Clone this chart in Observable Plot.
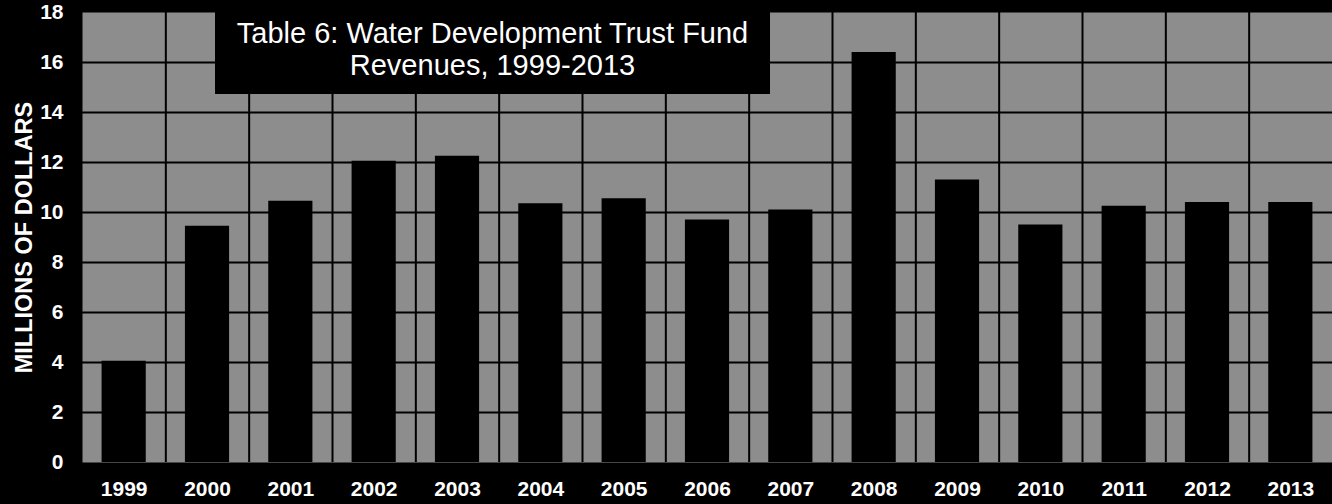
<!DOCTYPE html>
<html><head><meta charset="utf-8">
<script src="https://cdn.jsdelivr.net/npm/d3@7"></script>
<script src="https://cdn.jsdelivr.net/npm/@observablehq/plot@0.6"></script>
<style>
html,body{margin:0;padding:0;background:#000;}
#wrap{position:relative;width:1332px;height:504px;overflow:hidden;background:#000;}
#title{position:absolute;left:215px;top:0;width:555px;height:94px;background:#000;color:#fff;font-family:"Liberation Sans",Arial,sans-serif;font-size:29px;line-height:32px;text-align:center;padding-top:17px;box-sizing:border-box;}
</style></head><body>
<div id="wrap"></div>
<script>
const years = [1999,2000,2001,2002,2003,2004,2005,2006,2007,2008,2009,2010,2011,2012,2013];
const revenues = [4.05,9.45,10.45,12.05,12.25,10.35,10.55,9.7,10.1,16.4,11.3,9.5,10.25,10.4,10.4];
const yTicks = [0,2,4,6,8,10,12,14,16,18];
const yLabel = "MILLIONS OF DOLLARS";
const titleLines = ["Table 6: Water Development Trust Fund","Revenues, 1999-2013"];

const data = years.map((year,i)=>({year, value: revenues[i]}));
const boundaries = years.slice(0,-1).map(y=>y+0.5);
const inner = yTicks.filter(t=>t>yTicks[0] && t<yTicks[yTicks.length-1]);

const chart = Plot.plot({
  width:1332, height:504, marginLeft:82, marginRight:0, marginTop:12, marginBottom:42,
  style:{background:"#000", color:"#fff", fontFamily:"'Liberation Sans', Arial, sans-serif"},
  x:{domain:[1998.5,2013.5], axis:null},
  y:{domain:[0,18], axis:null},
  marks:[
    Plot.frame({fill:"#8d8d8d"}),
    Plot.ruleY(inner, {stroke:"#000", strokeWidth:2}),
    Plot.ruleX(boundaries, {stroke:"#000", strokeWidth:2}),
    Plot.rectY(data, {x1: d=>d.year-0.265, x2: d=>d.year+0.265, y: "value", fill:"#000"}),
    Plot.axisY(yTicks, {tickSize:0, tickPadding:19, fontSize:21, fontWeight:"bold", fill:"#fff", label: yLabel, labelAnchor:"center", labelArrow:"none", labelOffset:67}),
    Plot.axisX(years, {tickSize:0, tickPadding:19, fontSize:21, fontWeight:"bold", fill:"#fff", tickFormat: d=>String(d), label:null})
  ]
});
d3.select(chart).selectAll('g[aria-label="y-axis label"], g[aria-label="y-axis label"] text')
  .attr("font-size", 23.5).attr("font-weight", "bold");
const wrap = document.getElementById("wrap");
wrap.appendChild(chart);
const t = document.createElement("div");
t.id = "title";
t.innerHTML = titleLines.join("<br>");
wrap.appendChild(t);
</script>
</body></html>
